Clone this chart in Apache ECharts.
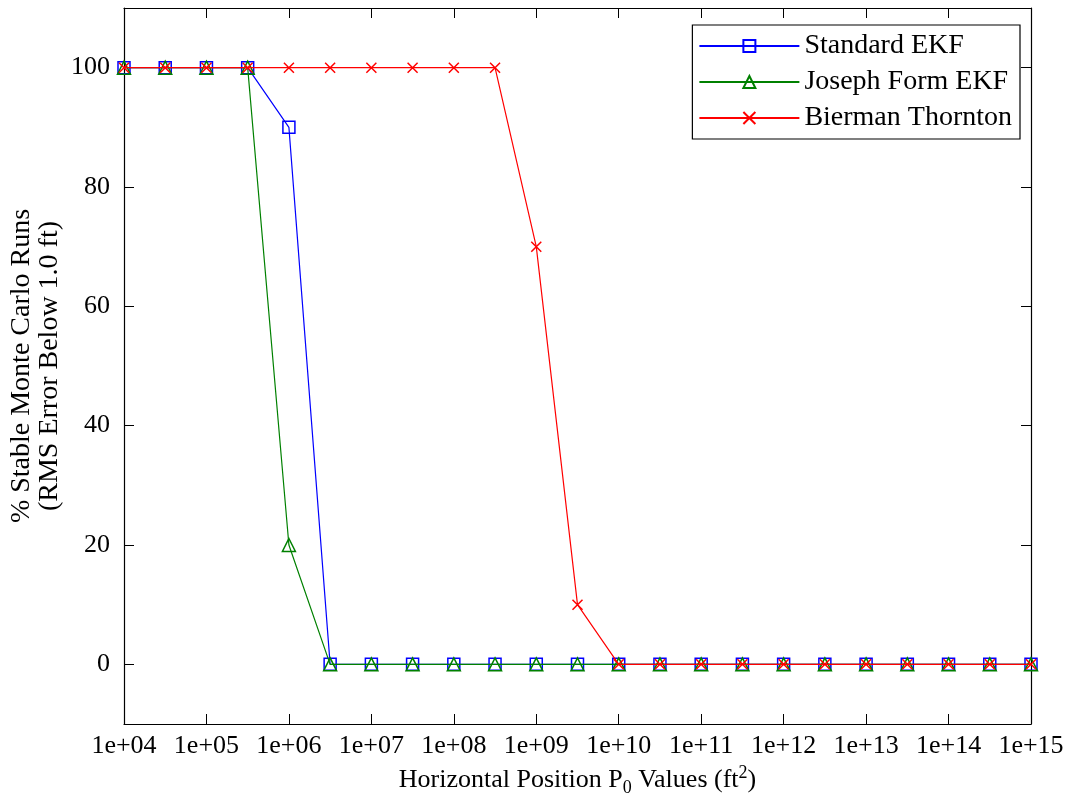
<!DOCTYPE html>
<html>
<head>
<meta charset="utf-8">
<script src="https://cdn.jsdelivr.net/npm/echarts@6/dist/echarts.min.js"></script>
<style>
  html, body { margin: 0; padding: 0; background: #fff; }
  #chart { width: 1078px; height: 797px; }
</style>
</head>
<body>
<div id="chart"></div>
<script>
// Horizontal position P0 values (ft^2), half-decade steps
const p0Values = [1e4, 3.162e4, 1e5, 3.162e5, 1e6, 3.162e6, 1e7, 3.162e7, 1e8, 3.162e8,
  1e9, 3.162e9, 1e10, 3.162e10, 1e11, 3.162e11, 1e12, 3.162e12, 1e13, 3.162e13,
  1e14, 3.162e14, 1e15];

// % of stable Monte Carlo runs for each filter
const standardEKF = [100, 100, 100, 100, 90, 0, 0, 0, 0, 0, 0, 0, 0, 0, 0, 0, 0, 0, 0, 0, 0, 0, 0];
const josephEKF = [100, 100, 100, 100, 20, 0, 0, 0, 0, 0, 0, 0, 0, 0, 0, 0, 0, 0, 0, 0, 0, 0, 0];
const biermanThornton = [100, 100, 100, 100, 100, 100, 100, 100, 100, 100, 70, 10, 0, 0, 0, 0, 0, 0, 0, 0, 0, 0, 0];

// Tick positions on the value axis
const yTicks = [0, 20, 40, 60, 80, 100];

const FONT = 'Liberation Serif';
const FS = 26;

function pairs(ys) {
  return p0Values.map((x, i) => [x, ys[i]]);
}
function expLabel(v) {
  const e = Math.round(Math.log10(v));
  return '1e+' + (e < 10 ? '0' + e : String(e));
}

const chart = echarts.init(document.getElementById('chart'), null, { renderer: 'canvas' });

// log axis, one tick per decade (1e4 .. 1e15)
const xBase = {
  type: 'log',
  logBase: 10,
  min: 1e4,
  max: 1e15,
  interval: 1,
  axisLine: { show: true, onZero: false, lineStyle: { color: '#000', width: 1.2 } },
  axisTick: { show: true, inside: true, length: 10, lineStyle: { color: '#000' } },
  splitLine: { show: false },
  minorTick: { show: false }
};
const yBase = {
  type: 'value',
  min: -10,
  max: 110,
  axisLine: { show: true, onZero: false, lineStyle: { color: '#000', width: 1.2 } },
  axisTick: { show: true, inside: true, length: 10, customValues: yTicks, lineStyle: { color: '#000' } },
  splitLine: { show: false }
};

const option = {
  animation: false,
  backgroundColor: '#fff',
  textStyle: { fontFamily: FONT },
  grid: { left: 124, right: 47, top: 8, bottom: 73, outerBoundsMode: 'none', containLabel: false },
  legend: {
    right: 58,
    top: 25,
    orient: 'vertical',
    backgroundColor: '#fff',
    borderColor: '#000',
    borderWidth: 1.2,
    borderRadius: 0,
    padding: [7, 8, 7, 6],
    itemWidth: 100,
    itemHeight: 15,
    itemGap: 8,
    textStyle: { fontFamily: FONT, fontSize: 28, color: '#000' },
    data: ['Standard EKF', 'Joseph Form EKF', 'Bierman Thornton']
  },
  xAxis: [
    Object.assign({}, xBase, {
      position: 'bottom',
      name: 'Horizontal Position P{sub|0} Values (ft{sup|2})',
      nameLocation: 'middle',
      nameGap: 36,
      nameTextStyle: {
        fontFamily: FONT, fontSize: FS, color: '#000',
        rich: {
          sub: { fontFamily: FONT, fontSize: 18, color: '#000', padding: [15, 0, 0, 0] },
          sup: { fontFamily: FONT, fontSize: 18, color: '#000', padding: [0, 0, 15, 0] }
        }
      },
      axisLabel: {
        show: true, margin: 9, fontFamily: FONT, fontSize: FS, color: '#000',
        formatter: expLabel, showMaxLabel: true, showMinLabel: true,
        hideOverlap: false
      }
    }),
    Object.assign({}, xBase, { position: 'top', axisLabel: { show: false } })
  ],
  yAxis: [
    Object.assign({}, yBase, {
      position: 'left',
      name: '% Stable Monte Carlo Runs\n(RMS Error Below 1.0 ft)',
      nameLocation: 'middle',
      nameGap: 60,
      nameMoveOverlap: false,
      nameTextStyle: { fontFamily: FONT, fontSize: 28, color: '#000', lineHeight: 28, align: 'center' },
      axisLabel: {
        show: true, margin: 14, fontFamily: FONT, fontSize: FS, color: '#000',
        customValues: yTicks
      }
    }),
    Object.assign({}, yBase, { position: 'right', axisLabel: { show: false } })
  ],
  series: [
    {
      name: 'Standard EKF',
      type: 'line',
      xAxisIndex: 0, yAxisIndex: 0,
      data: pairs(standardEKF),
      symbol: 'rect',
      symbolSize: 12,
      showAllSymbol: true,
      lineStyle: { color: '#0000ff', width: 1.2 },
      itemStyle: { color: 'rgba(255,255,255,0)', borderColor: '#0000ff', borderWidth: 1.5 },
      z: 2
    },
    {
      name: 'Joseph Form EKF',
      type: 'line',
      xAxisIndex: 0, yAxisIndex: 0,
      data: pairs(josephEKF),
      symbol: 'triangle',
      symbolSize: 13,
      showAllSymbol: true,
      lineStyle: { color: '#008000', width: 1.2 },
      itemStyle: { color: 'rgba(255,255,255,0)', borderColor: '#008000', borderWidth: 1.5 },
      z: 3
    },
    {
      name: 'Bierman Thornton',
      type: 'line',
      xAxisIndex: 0, yAxisIndex: 0,
      data: pairs(biermanThornton),
      symbol: 'path://M0,0L10,10M0,10L10,0',
      symbolSize: 10,
      showAllSymbol: true,
      lineStyle: { color: '#ff0000', width: 1.2 },
      itemStyle: { color: 'rgba(255,255,255,0)', borderColor: '#ff0000', borderWidth: 1.5 },
      z: 4
    }
  ]
};

chart.setOption(option);
</script>
</body>
</html>
